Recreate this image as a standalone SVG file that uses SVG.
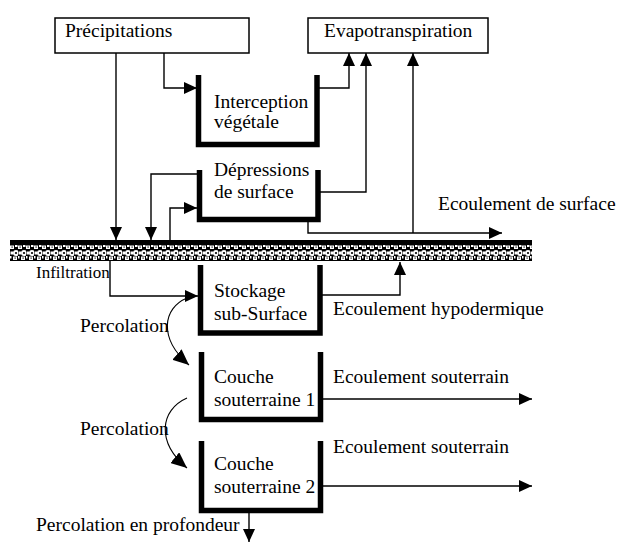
<svg xmlns="http://www.w3.org/2000/svg" width="619" height="542" viewBox="0 0 619 542">
  <defs>
    <marker id="arrow" markerUnits="userSpaceOnUse" markerWidth="13" markerHeight="12" refX="13" refY="6" orient="auto">
      <path d="M0,0 L13,6 L0,12 z" fill="#000"/>
    </marker>
    <!-- soil texture for the ground strip -->
    <pattern id="soil" patternUnits="userSpaceOnUse" x="10" y="245" width="8" height="16">
      <rect width="8" height="16" fill="#000"/>
      <rect x="0" y="0.5" width="4" height="3.5" fill="#fff"/>
      <rect x="1.5" y="1.5" width="1.2" height="1.2" fill="#000"/>
      <rect x="5" y="0" width="2.5" height="2" fill="#fff"/>
      <circle cx="6" cy="8" r="3" fill="#fff"/>
      <circle cx="6" cy="8" r="1.1" fill="#000"/>
      <rect x="0.5" y="6.5" width="2.5" height="3" fill="#fff"/>
      <rect x="3" y="11.5" width="4" height="3.5" fill="#fff"/>
      <rect x="4.5" y="12.5" width="1.2" height="1.2" fill="#000"/>
      <rect x="0" y="11" width="1.5" height="2.5" fill="#fff"/>
    </pattern>
    <style>
      text { font-family: "Liberation Serif", "Times New Roman", serif; font-size: 19.5px; fill: #000; }
      .small { font-size: 17px; }
      .box { fill: #fff; stroke: #000; stroke-width: 1.5; }
      .tank { fill: none; stroke: #000; stroke-width: 5.5; stroke-linejoin: miter; }
      .flow { fill: none; stroke: #000; stroke-width: 1.4; }
      .arr { marker-end: url(#arrow); }
      .curve { fill: none; stroke: #000; stroke-width: 1.1; marker-end: url(#arrowBig); }
    </style>
    <marker id="arrowBig" markerUnits="userSpaceOnUse" markerWidth="16" markerHeight="14" refX="16" refY="7" orient="auto">
      <path d="M0,0 L16,7 L0,14 z" fill="#000"/>
    </marker>
  </defs>

  <rect width="619" height="542" fill="#fff"/>

  <!-- ground surface -->
  <g id="ground">
    <rect x="10" y="240" width="522" height="5" fill="#000"/>
    <rect x="10" y="245" width="522" height="16" fill="url(#soil)"/>
  </g>

  <!-- flows -->
  <g id="connectors">
    <path class="flow arr" d="M164,53 V88 H197"/>
    <path class="flow arr" d="M116,53 V240"/>
    <path class="flow arr" d="M319,88 H349 V53"/>
    <path class="flow arr" d="M320,192 H366 V53"/>
    <path class="flow arr" d="M413,233 V53"/>
    <path class="flow arr" d="M197,174 H151 V240"/>
    <path class="flow arr" d="M170,240 V208 H197"/>
    <path class="flow arr" d="M308,220 V233 H502"/>
    <path class="flow arr" d="M110,261 V296 H198"/>
    <path class="flow arr" d="M322,295 H400 V262"/>
    <path class="curve" d="M187,298 C163,308 158,338 189,365"/>
    <path class="curve" d="M187,398 C160,410 156,442 187,468"/>
    <path class="flow arr" d="M322,399 H532"/>
    <path class="flow arr" d="M322,486 H532"/>
    <path class="flow arr" d="M249,512 V542"/>
  </g>

  <g id="precipitations">
    <rect class="box" x="55" y="18" width="194" height="35"/>
    <text x="65" y="37">Précipitations</text>
  </g>

  <g id="evapotranspiration">
    <rect class="box" x="308" y="18" width="180" height="35"/>
    <text x="324" y="37">Evapotranspiration</text>
  </g>

  <g id="interception">
    <path class="tank" d="M198.5,75 V144.5 H317 V75"/>
    <text x="214" y="108">Interception</text>
    <text x="214" y="128">végétale</text>
  </g>

  <g id="depressions">
    <path class="tank" d="M199.5,170 V219.5 H318 V170"/>
    <text x="214" y="176">Dépressions</text>
    <text x="214" y="198">de surface</text>
  </g>

  <g id="stockage">
    <path class="tank" d="M200.5,265 V333 H320 V265"/>
    <text x="214" y="297">Stockage</text>
    <text x="214" y="320">sub-Surface</text>
  </g>

  <g id="couche1">
    <path class="tank" d="M201.5,352 V419.5 H320.5 V352"/>
    <text x="214" y="383">Couche</text>
    <text x="214" y="406">souterraine 1</text>
  </g>

  <g id="couche2">
    <path class="tank" d="M201.5,441 V510.5 H320.5 V441"/>
    <text x="214" y="470">Couche</text>
    <text x="214" y="493">souterraine 2</text>
  </g>

  <!-- flow labels -->
  <g id="labels">
    <text x="438" y="210">Ecoulement de surface</text>
    <text class="small" x="36" y="278">Infiltration</text>
    <text x="333" y="315">Ecoulement hypodermique</text>
    <text x="80" y="332">Percolation</text>
    <text x="333" y="383">Ecoulement souterrain</text>
    <text x="80" y="435">Percolation</text>
    <text x="333" y="453">Ecoulement souterrain</text>
    <text x="36" y="531">Percolation en profondeur</text>
  </g>
</svg>
